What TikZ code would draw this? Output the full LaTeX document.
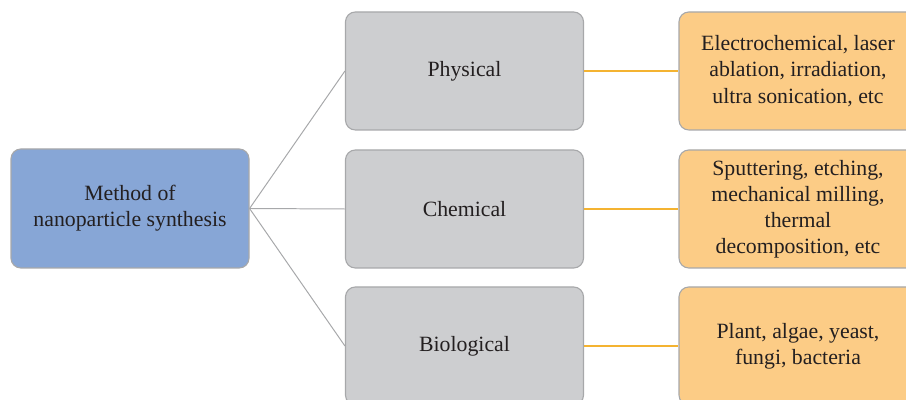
\documentclass[tikz,border=0pt]{standalone}
\usepackage{fontspec}
\setmainfont{Liberation Serif}
\usepackage{tikz}
\usetikzlibrary{positioning}
\definecolor{RootBlue}{HTML}{87A6D6}
\definecolor{MethodGray}{HTML}{CDCED0}
\definecolor{ExampleAmber}{HTML}{FCCC86}
\definecolor{EdgeGray}{HTML}{A7A8AA}
\definecolor{LinkAmber}{HTML}{F4B331}
\definecolor{InkText}{HTML}{231F20}
\tikzset{
  box/.style={draw=EdgeGray, line width=0.8pt, rounded corners=7pt, align=center,
    minimum width=5.95cm, minimum height=2.95cm, inner sep=2pt, text=InkText},
  branch/.style={draw=EdgeGray, line width=0.7pt},
  leaf/.style={draw=LinkAmber, line width=0.9pt}
}
\begin{document}
\begin{tikzpicture}[
  font=\fontsize{15.5}{18.6}\selectfont,
  rootcell/.style={box, fill=RootBlue, minimum height=2.975cm},
  method/.style={box, fill=MethodGray},
  examples/.style={box, fill=ExampleAmber}
]
\useasboundingbox (0,0) rectangle (22.65,-10);
\begin{scope}
\clip (0,0) rectangle (22.65,-10);
\node[rootcell] at (3.25,-5.2125) (root) {Method of\\nanoparticle synthesis};
\node[method] at (11.6125,-1.775) (phys) {Physical};
\node[method] at (11.6125,-5.225) (chem) {Chemical};
\node[method] at (11.6125,-8.65) (bio) {Biological};
\node[examples] at (19.95,-1.775) (physex) {Electrochemical, laser\\ablation, irradiation,\\ultra sonication, etc};
\node[examples] at (19.95,-5.225) (chemex) {Sputtering, etching,\\mechanical milling,\\thermal\\decomposition, etc};
\node[examples] at (19.95,-8.65) (bioex) {Plant, algae, yeast,\\fungi, bacteria};

% root to the three methods
\draw[branch] (root.east) -- (phys.west);
\draw[branch] (root.east) -- (chem.west);
\draw[branch] (root.east) -- (bio.west);
% methods to their examples
\draw[leaf] (phys.east) -- (physex.west);
\draw[leaf] (chem.east) -- (chemex.west);
\draw[leaf] (bio.east) -- (bioex.west);
\end{scope}
\end{tikzpicture}
\end{document}
